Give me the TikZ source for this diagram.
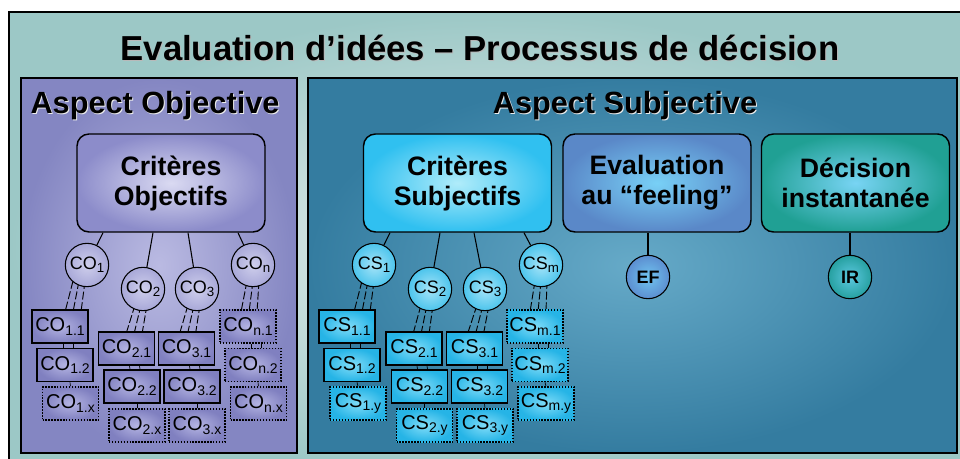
\documentclass[tikz,border=0pt]{standalone}
\usepackage{fontspec}
\setmainfont{Liberation Sans}
\usetikzlibrary{calc}
\definecolor{bgIn}{HTML}{EAEFEE}
\definecolor{bgOut}{HTML}{9CC8C6}
\definecolor{purIn}{HTML}{BABAE2}
\definecolor{purOut}{HTML}{8486C2}
\definecolor{bluIn}{HTML}{66AAC8}
\definecolor{bluOut}{HTML}{347CA0}
\definecolor{coBoxIn}{HTML}{DADAF2}
\definecolor{coBoxOut}{HTML}{8C8CCA}
\definecolor{csBoxIn}{HTML}{B0ECFA}
\definecolor{csBoxOut}{HTML}{30C0F0}
\definecolor{efIn}{HTML}{78D0F6}
\definecolor{efOut}{HTML}{5A88C8}
\definecolor{irIn}{HTML}{78D4F4}
\definecolor{irOut}{HTML}{20A094}
\definecolor{coSubIn}{HTML}{B4B4E2}
\definecolor{coSubOut}{HTML}{8080C0}
\definecolor{csSubIn}{HTML}{80DCF8}
\definecolor{csSubOut}{HTML}{26B4E6}
\definecolor{coCircIn}{HTML}{CFCFEC}
\definecolor{coCircOut}{HTML}{A8A8D8}
\definecolor{csCircIn}{HTML}{A6E4F8}
\definecolor{csCircOut}{HTML}{4CC4EC}
\definecolor{efCircIn}{HTML}{70C4F0}
\definecolor{efCircOut}{HTML}{5C8ED0}
\definecolor{irCircIn}{HTML}{5CC8E0}
\definecolor{irCircOut}{HTML}{26A0A0}
\newcommand{\subs}[1]{\raisebox{-0.35ex}{\fontsize{10.5}{10.5}\selectfont #1}}
\newcommand{\csubs}[1]{\raisebox{-0.35ex}{\fontsize{10}{10}\selectfont #1}}
\begin{document}
\begin{tikzpicture}[x=0.75pt,y=-0.75pt,
  bigbox/.style={draw, line width=1.1pt, rounded corners=9pt, minimum width=141pt, minimum height=73.5pt,
    align=center, inner sep=0pt, font=\bfseries\fontsize{20}{22.5}\selectfont},
  crit/.style={circle, draw, line width=0.8pt, minimum size=32.5pt, inner sep=0pt, font=\fontsize{13.5}{13.5}\selectfont},
  cocirc/.style={crit, inner color=coCircIn, outer color=coCircOut},
  cscirc/.style={crit, inner color=csCircIn, outer color=csCircOut},
  sub/.style={draw, line width=1.2pt, minimum width=42pt, minimum height=24.75pt, inner sep=0pt,
    font=\fontsize{15}{15}\selectfont},
  subx/.style={sub, dash pattern=on 1.1pt off 1.1pt},
  cosub/.style={inner color=coSubIn, outer color=coSubOut},
  cssub/.style={inner color=csSubIn, outer color=csSubOut},
  tri/.style={line width=0.7pt, dash pattern=on 6pt off 2pt},
  conn/.style={line width=0.8pt},
  thinl/.style={line width=0.5pt}]
\path[use as bounding box] (0,0) rectangle (960,459);
\clip (0,0) rectangle (960,459);
\fill[white] (0,0) rectangle (960,459);
\shadedraw[inner color=bgIn, outer color=bgOut, draw=black, line width=1.5pt] (9,12) rectangle (980,480);
% title
\node[text=gray!55, font=\bfseries\fontsize{26}{30}\selectfont] (titleS) at (481,49) {Evaluation d’idées – Processus de décision};
\node[font=\bfseries\fontsize{26}{30}\selectfont] (title) at (480,48) {Evaluation d’idées – Processus de décision};
% panels
\shadedraw[inner color=purIn, outer color=purOut, draw=black, line width=1.1pt] (21,78) rectangle (297,453);
\shadedraw[inner color=bluIn, outer color=bluOut, draw=black, line width=1.1pt] (308,78) rectangle (957,453);
\node[text=white!85!gray, font=\bfseries\fontsize{23}{26}\selectfont] (aoS) at (156,107) {Aspect Objective};
\node[font=\bfseries\fontsize{23}{26}\selectfont] (ao) at (155,106) {Aspect Objective};
\node[text=white!85!gray, font=\bfseries\fontsize{23}{26}\selectfont] (asS) at (626,107) {Aspect Subjective};
\node[font=\bfseries\fontsize{23}{26}\selectfont] (as) at (625,106) {Aspect Subjective};
% big boxes
\node[bigbox, inner color=coBoxIn, outer color=coBoxOut] (critO) at (171,183) {Critères\\Objectifs};
\node[bigbox, inner color=csBoxIn, outer color=csBoxOut] (critS) at (457.5,183) {Critères\\Subjectifs};
\node[bigbox, inner color=efIn, outer color=efOut] (evalF) at (657,183) {Evaluation\\au “feeling”};
\node[bigbox, inner color=irIn, outer color=irOut] (dec) at (855.5,183) {Décision\\instantanée};
% circle positions
\coordinate (c1) at (87,265);
\coordinate (c2) at (143,289);
\coordinate (c3) at (197,289);
\coordinate (cn) at (253,265);
\coordinate (s1) at (374,265);
\coordinate (s2) at (430,289);
\coordinate (s3) at (485,289);
\coordinate (sm) at (541,265);
% box top positions
\coordinate (p11) at (60,310);
\coordinate (p21) at (126.5,332);
\coordinate (p31) at (186.5,332);
\coordinate (pn1) at (248,310);
\coordinate (q11) at (347,310);
\coordinate (q21) at (414,332);
\coordinate (q31) at (474.5,332);
\coordinate (qm1) at (535,310);
% triple dashed lines (drawn below circles and boxes)
\newcommand{\tri}[4]{\foreach \k in {-1,0,1} {\draw[tri] ($(#1)+(#2+\k*6,16)$) -- ($(#3)+(#4+\k*8,2)$);}}
\tri{c1}{-8}{p11}{13}
\tri{c2}{-2}{p21}{7.5}
\tri{c3}{-3}{p31}{1}
\tri{cn}{0}{pn1}{1}
\tri{s1}{-6}{q11}{15}
\tri{s2}{-3}{q21}{7}
\tri{s3}{-2}{q31}{1}
\tri{sm}{0}{qm1}{3}
% circles
\node[cocirc] (co1) at (c1) {CO\csubs{1}};
\node[cocirc] (co2) at (c2) {CO\csubs{2}};
\node[cocirc] (co3) at (c3) {CO\csubs{3}};
\node[cocirc] (con) at (cn) {CO\csubs{n}};
\node[cscirc] (cs1) at (s1) {CS\csubs{1}};
\node[cscirc] (cs2) at (s2) {CS\csubs{2}};
\node[cscirc] (cs3) at (s3) {CS\csubs{3}};
\node[cscirc] (csm) at (sm) {CS\csubs{m}};
\node[crit, inner color=efCircIn, outer color=efCircOut, font=\bfseries\fontsize{13.5}{13.5}\selectfont] (ef) at (648,277) {EF};
\node[crit, inner color=irCircIn, outer color=irCircOut, font=\bfseries\fontsize{13.5}{13.5}\selectfont] (ir) at (850,277) {IR};
% box-to-circle connectors
\draw[conn] ($(critO.south)+(-68,0)$) -- (co1);
\draw[conn] ($(critO.south)+(-18,0)$) -- (co2);
\draw[conn] ($(critO.south)+(17,0)$) -- (co3);
\draw[conn] ($(critO.south)+(67,0)$) -- (con);
\draw[conn] ($(critS.south)+(-67.5,0)$) -- (cs1);
\draw[conn] ($(critS.south)+(-17.5,0)$) -- (cs2);
\draw[conn] ($(critS.south)+(16.5,0)$) -- (cs3);
\draw[conn] ($(critS.south)+(66.5,0)$) -- (csm);
\draw[conn] ($(evalF.south)+(-9,0)$) -- (ef);
\draw[conn] ($(dec.south)+(-5.5,0)$) -- (ir);
% sub boxes
\node[sub, cosub] (co11) at (60,326.5) {CO\subs{1.1}};
\node[sub, cosub] (co12) at (65,365) {CO\subs{1.2}};
\node[subx, cosub] (co1x) at (70.5,403.5) {CO\subs{1.x}};
\node[sub, cosub] (co21) at (126.5,348.5) {CO\subs{2.1}};
\node[sub, cosub] (co22) at (132,386.5) {CO\subs{2.2}};
\node[subx, cosub] (co2x) at (137,425.5) {CO\subs{2.x}};
\node[sub, cosub] (co31) at (186.5,348.5) {CO\subs{3.1}};
\node[sub, cosub] (co32) at (192,386.5) {CO\subs{3.2}};
\node[subx, cosub] (co3x) at (197,425.5) {CO\subs{3.x}};
\node[subx, cosub] (con1) at (248,326.5) {CO\subs{n.1}};
\node[subx, cosub] (con2) at (253,365) {CO\subs{n.2}};
\node[subx, cosub] (conx) at (258.5,403.5) {CO\subs{n.x}};
\node[sub, cssub] (cs11) at (347,326.5) {CS\subs{1.1}};
\node[sub, cssub] (cs12) at (352,365) {CS\subs{1.2}};
\node[subx, cssub] (cs1y) at (358,403.5) {CS\subs{1.y}};
\node[sub, cssub] (cs21) at (414,348.5) {CS\subs{2.1}};
\node[sub, cssub] (cs22) at (419.5,386.5) {CS\subs{2.2}};
\node[subx, cssub] (cs2y) at (424.5,425.5) {CS\subs{2.y}};
\node[sub, cssub] (cs31) at (474.5,348.5) {CS\subs{3.1}};
\node[sub, cssub] (cs32) at (479.5,386.5) {CS\subs{3.2}};
\node[subx, cssub] (cs3y) at (485,425.5) {CS\subs{3.y}};
\node[subx, cssub] (csm1) at (535,326.5) {CS\subs{m.1}};
\node[subx, cssub] (csm2) at (540,365) {CS\subs{m.2}};
\node[subx, cssub] (csmy) at (546,403.5) {CS\subs{m.y}};
% thin links between stacked boxes
\newcommand{\lnk}[2]{\draw[thinl] ($(#1.south)+(3,0)$) -- ($(#2.north)+(-2,0)$); \draw[thinl] ($(#1.south)+(13,0)$) -- ($(#2.north)+(8,0)$);}
\newcommand{\lnkone}[2]{\draw[thinl] ($(#1.south)+(5,0)$) -- ($(#2.north)+(0,0)$);}
\lnk{co11}{co12} \lnkone{co12}{co1x}
\lnk{co21}{co22} \lnkone{co22}{co2x}
\lnk{co31}{co32} \lnkone{co32}{co3x}
\lnk{con1}{con2} \lnkone{con2}{conx}
\lnk{cs11}{cs12} \lnkone{cs12}{cs1y}
\lnk{cs21}{cs22} \lnkone{cs22}{cs2y}
\lnk{cs31}{cs32} \lnkone{cs32}{cs3y}
\lnk{csm1}{csm2} \lnkone{csm2}{csmy}
\end{tikzpicture}
\end{document}
